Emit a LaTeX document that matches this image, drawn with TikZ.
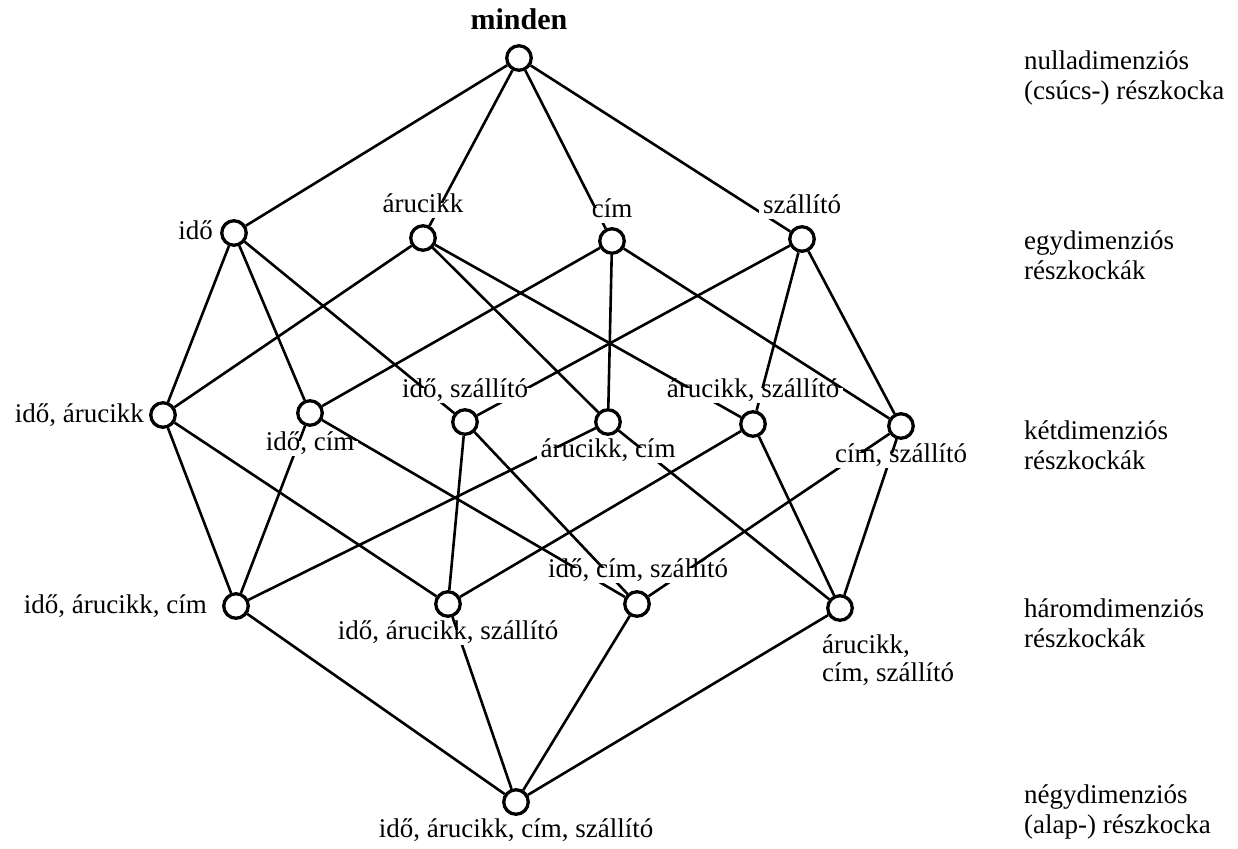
\documentclass[tikz,border=0pt]{standalone}
\usepackage{fontspec}
\setmainfont{Liberation Serif}
\begin{document}
\begin{tikzpicture}[x=1pt,y=-1pt,
  vtx/.style={circle,draw,line width=3.3pt,fill=white,minimum size=24.5pt,inner sep=0pt},
  lbl/.style={fill=white,inner xsep=4pt,inner ysep=3pt,font=\fontsize{27}{29}\selectfont,
              text height=0.7em,text depth=0.2em},
  lbltwo/.style={fill=white,inner xsep=4pt,inner ysep=3pt,align=left,font=\fontsize{27}{28}\selectfont},
  lvl/.style={anchor=west,align=left,inner sep=0pt,font=\fontsize{27}{30}\selectfont},
  link/.style={line width=2.6pt}]
\useasboundingbox (0,0) rectangle (1238,848);

% lattice vertices
\node[vtx] (all)  at (519,58)  {};
\node[vtx] (i)    at (234,233) {};
\node[vtx] (a)    at (423,238) {};
\node[vtx] (c)    at (612,241) {};
\node[vtx] (s)    at (802,239) {};
\node[vtx] (ia)   at (163,415) {};
\node[vtx] (ic)   at (310,413) {};
\node[vtx] (is)   at (465,422) {};
\node[vtx] (ac)   at (608,422) {};
\node[vtx] (as)   at (753,424) {};
\node[vtx] (cs)   at (901,426) {};
\node[vtx] (iac)  at (236,606) {};
\node[vtx] (ias)  at (448,604) {};
\node[vtx] (ics)  at (637,604) {};
\node[vtx] (acs)  at (840,608) {};
\node[vtx] (iacs) at (516,802) {};

% apex to one-dimensional cuboids
\foreach \t in {i,a,c,s} \draw[link] (all) -- (\t);
% one- to two-dimensional
\foreach \f/\t in {i/ia,i/ic,i/is, a/ia,a/ac,a/as, c/ic,c/ac,c/cs, s/is,s/as,s/cs}
  \draw[link] (\f) -- (\t);
% two- to three-dimensional
\foreach \f/\t in {ia/iac,ia/ias, ic/iac,ic/ics, is/ias,is/ics,
                   ac/iac,ac/acs, as/ias,as/acs, cs/ics,cs/acs}
  \draw[link] (\f) -- (\t);
% three-dimensional to base
\foreach \f in {iac,ias,ics,acs} \draw[link] (\f) -- (iacs);

% vertex labels, drawn last so their white boxes hide the lines behind them
\node[lbl,font=\fontsize{30}{32}\selectfont\bfseries] (Lall) at (519,27) {minden};
\node[lbl,anchor=east] (Li) at (217,237) {idő};
\node[lbl] (La)  at (423,210) {árucikk};
\node[lbl] (Lc)  at (612,215) {cím};
\node[lbl] (Ls)  at (802,211) {szállító};
\node[lbl,anchor=east] (Lia) at (148,420) {idő, árucikk};
\node[lbl] (Lic) at (310,448) {idő, cím};
\node[lbl] (Lis) at (465,395) {idő, szállító};
\node[lbl] (Lac) at (608,455) {árucikk, cím};
\node[lbl] (Las) at (753,395) {árucikk, szállító};
\node[lbl] (Lcs) at (901,460) {cím, szállító};
\node[lbl,anchor=east] (Liac) at (211,611) {idő, árucikk, cím};
\node[lbl] (Lias) at (448,637) {idő, árucikk, szállító};
\node[lbl] (Lics) at (638,575) {idő, cím, szállító};
\node[lbltwo,anchor=west] (Lacs) at (818,660) {árucikk,\\cím, szállító};
\node[lbl] (Liacs) at (516,835) {idő, árucikk, cím, szállító};

% level descriptions
\node[lvl] (d0) at (1024,78)  {nulladimenziós\\(csúcs-) részkocka};
\node[lvl] (d1) at (1024,255) {egydimenziós\\részkockák};
\node[lvl] (d2) at (1024,445) {kétdimenziós\\részkockák};
\node[lvl] (d3) at (1024,623) {háromdimenziós\\részkockák};
\node[lvl] (d4) at (1024,812) {négydimenziós\\(alap-) részkocka};
\end{tikzpicture}
\end{document}
